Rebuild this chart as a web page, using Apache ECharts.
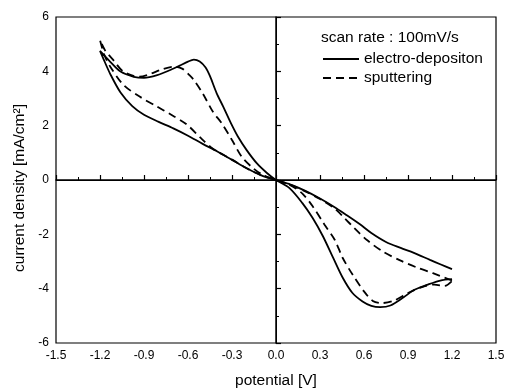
<!DOCTYPE html>
<html><head><meta charset="utf-8">
<script src="https://cdn.jsdelivr.net/npm/echarts@6/dist/echarts.min.js"></script>
<style>html,body{margin:0;padding:0;background:#fff}#c{width:506px;height:389px}</style>
</head><body><div id="c"></div>
<script>
// electro-deposition loop (path order: right inner -> left lower -> left hump -> right outer)
const electroX = [1.2, 1.12, 1.05, 0.94, 0.85, 0.75, 0.65, 0.57, 0.47, 0.4, 0.3, 0.2, 0.1, 0,
  -0.1, -0.2, -0.3, -0.4, -0.5, -0.6, -0.7, -0.8, -0.9, -0.98, -1.06, -1.13, -1.176, -1.2,
  -1.13, -1.06, -0.97, -0.9, -0.81, -0.72, -0.66, -0.6, -0.56, -0.52, -0.48, -0.45, -0.405, -0.36, -0.31, -0.26, -0.2, -0.13, -0.06, 0,
  0.09, 0.18, 0.25, 0.32, 0.39, 0.455, 0.52, 0.59, 0.65, 0.71, 0.78, 0.87, 0.94, 1.03, 1.12, 1.2];
const electroY = [-3.28, -3.1, -2.94, -2.68, -2.5, -2.28, -1.95, -1.62, -1.25, -1.0, -0.68, -0.4, -0.17, 0,
  0.17, 0.43, 0.74, 1.05, 1.33, 1.63, 1.9, 2.14, 2.4, 2.72, 3.22, 3.9, 4.45, 4.75,
  4.35, 3.99, 3.8, 3.76, 3.86, 4.05, 4.2, 4.36, 4.43, 4.36, 4.14, 3.82, 3.2, 2.7, 2.12, 1.6, 1.1, 0.61, 0.25, 0,
  -0.29, -0.85, -1.4, -2.07, -2.87, -3.6, -4.15, -4.47, -4.63, -4.68, -4.62, -4.32, -4.05, -3.86, -3.7, -3.65];

// sputtering loop
const sputterX = [1.2, 1.07, 0.96, 0.85, 0.73, 0.62, 0.53, 0.47, 0.4, 0.3, 0.2, 0.1, 0,
  -0.1, -0.2, -0.3, -0.43, -0.51, -0.61, -0.72, -0.81, -0.93, -1.04, -1.13, -1.17, -1.2,
  -1.166, -1.11, -1.04, -0.93, -0.85, -0.79, -0.7, -0.64, -0.59, -0.56, -0.5, -0.43, -0.37, -0.3, -0.234, -0.155, -0.087, 0,
  0.1, 0.18, 0.25, 0.33, 0.4, 0.455, 0.523, 0.6, 0.66, 0.72, 0.8, 0.91, 1.0, 1.08, 1.15, 1.2];
const sputterY = [-3.7, -3.43, -3.22, -2.97, -2.64, -2.21, -1.75, -1.42, -1.05, -0.7, -0.42, -0.18, 0,
  0.17, 0.43, 0.75, 1.15, 1.53, 2.05, 2.42, 2.7, 3.07, 3.5, 4.17, 4.6, 5.15,
  4.78, 4.42, 3.99, 3.8, 3.92, 4.05, 4.17, 4.1, 3.86, 3.68, 3.19, 2.51, 2.09, 1.47, 0.86, 0.43, 0.18, 0,
  -0.2, -0.5, -0.97, -1.64, -2.2, -2.87, -3.49, -4.1, -4.45, -4.53, -4.45, -4.13, -3.93, -3.85, -3.9, -3.72];

const seriesNames = ['electro-depositon', 'sputtering'];
const legendTitle = 'scan rate : 100mV/s';
const xName = 'potential [V]';
const yName = 'current density [mA/cm\u00b2]';

const zip = (xs, ys) => xs.map((x, i) => [x, ys[i]]);
const FF = '"Liberation Sans", Arial, Helvetica, sans-serif';

const axisCommon = {
  type: 'value',
  axisLine: { show: true, lineStyle: { color: '#000', width: 1.5 } },
  axisTick: { show: true, inside: true, length: 5, lineStyle: { color: '#000', width: 1.2 } },
  minorTick: { show: true, splitNumber: 2, length: 3, lineStyle: { color: '#000', width: 1 } },
  splitLine: { show: false },
  nameLocation: 'middle'
};

const chart = echarts.init(document.getElementById('c'));
chart.setOption({
  animation: false,
  backgroundColor: '#fff',
  title: {
    text: legendTitle, left: 321, top: 30, padding: 0,
    textStyle: { color: '#000', fontSize: 15.5, fontWeight: 'normal', fontFamily: FF }
  },
  legend: {
    orient: 'vertical', left: 322, top: 51, padding: 0,
    itemWidth: 36, itemHeight: 12, itemGap: 3,
    itemStyle: { opacity: 0 },
    textStyle: { color: '#000', fontSize: 15.5, fontFamily: FF },
    data: seriesNames
  },
  grid: { left: 56, right: 10, top: 17, bottom: 46, show: true, borderColor: '#000', borderWidth: 1.2,
          containLabel: false, outerBoundsMode: 'none' },
  xAxis: Object.assign({}, axisCommon, {
    min: -1.5, max: 1.5, interval: 0.3,
    name: xName, nameGap: 30,
    nameTextStyle: { color: '#000', fontSize: 15.5, fontFamily: FF },
    axisLabel: { color: '#000', fontSize: 12, fontFamily: FF, margin: 7, formatter: v => v.toFixed(1) }
  }),
  yAxis: Object.assign({}, axisCommon, {
    min: -6, max: 6, interval: 2,
    name: yName, nameGap: 18,
    nameTextStyle: { color: '#000', fontSize: 15.5, fontFamily: FF, padding: [0, 16, 0, 0] },
    axisLabel: { color: '#000', fontSize: 12, fontFamily: FF, margin: 7, formatter: v => String(Math.round(v)) }
  }),
  series: [
    {
      name: seriesNames[0], type: 'line', data: zip(electroX, electroY),
      showSymbol: false, symbol: 'none', smooth: 0.3,
      lineStyle: { color: '#000', width: 1.8, type: 'solid' },
      itemStyle: { color: '#000' },
      emphasis: { disabled: true },
      markLine: {
        silent: true, symbol: ['none', 'none'], label: { show: false },
        lineStyle: { color: '#000', type: 'solid', width: 1 },
        emphasis: { disabled: true },
        data: [{ xAxis: 0 }, { yAxis: 0 }]
      }
    },
    {
      name: seriesNames[1], type: 'line', data: zip(sputterX, sputterY),
      showSymbol: false, symbol: 'none', smooth: 0.3,
      lineStyle: { color: '#000', width: 1.8, type: [8, 5] },
      itemStyle: { color: '#000' },
      emphasis: { disabled: true }
    }
  ]
});
</script>
</body></html>
